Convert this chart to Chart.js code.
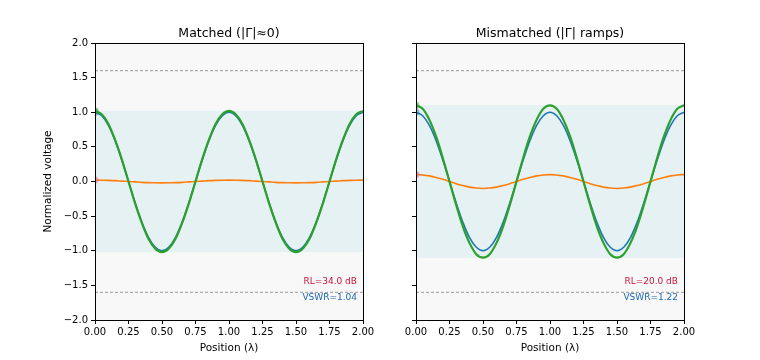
<!DOCTYPE html>
<html>
<head>
<meta charset="utf-8">
<script src="https://cdn.jsdelivr.net/npm/chart.js@4.4.1/dist/chart.umd.min.js"></script>
<style>
  body { margin: 0; background: #fff; }
  #wrap { position: relative; width: 760px; height: 360px; }
  .panel { position: absolute; top: 0; width: 380px; height: 360px; }
</style>
</head>
<body>
<div id="wrap">
  <div class="panel" style="left:0"><canvas id="left"></canvas></div>
  <div class="panel" style="left:380px"><canvas id="right"></canvas></div>
</div>
<script>
// positions along the line, in wavelengths
const positions = [0.00,0.05,0.10,0.15,0.20,0.25,0.30,0.35,0.40,0.45,0.50,0.55,0.60,0.65,0.70,0.75,0.80,0.85,0.90,0.95,
                   1.00,1.05,1.10,1.15,1.20,1.25,1.30,1.35,1.40,1.45,1.50,1.55,1.60,1.65,1.70,1.75,1.80,1.85,1.90,1.95,2.00];

// incident wave (same in both panels)
const incident = [1.00,0.95,0.81,0.59,0.31,0.00,-0.31,-0.59,-0.81,-0.95,-1.00,-0.95,-0.81,-0.59,-0.31,0.00,0.31,0.59,0.81,0.95,
                  1.00,0.95,0.81,0.59,0.31,0.00,-0.31,-0.59,-0.81,-0.95,-1.00,-0.95,-0.81,-0.59,-0.31,0.00,0.31,0.59,0.81,0.95,1.00];

// matched panel
const reflectedMatched = [0.020,0.019,0.016,0.012,0.006,0.000,-0.006,-0.012,-0.016,-0.019,-0.020,-0.019,-0.016,-0.012,-0.006,0.000,0.006,0.012,0.016,0.019,
                          0.020,0.019,0.016,0.012,0.006,0.000,-0.006,-0.012,-0.016,-0.019,-0.020,-0.019,-0.016,-0.012,-0.006,0.000,0.006,0.012,0.016,0.019,0.020];
const totalMatched = [1.02,0.97,0.83,0.60,0.32,0.00,-0.32,-0.60,-0.83,-0.97,-1.02,-0.97,-0.83,-0.60,-0.32,0.00,0.32,0.60,0.83,0.97,
                      1.02,0.97,0.83,0.60,0.32,0.00,-0.32,-0.60,-0.83,-0.97,-1.02,-0.97,-0.83,-0.60,-0.32,0.00,0.32,0.60,0.83,0.97,1.02];

// mismatched panel
const reflectedMismatched = [0.100,0.095,0.081,0.059,0.031,0.000,-0.031,-0.059,-0.081,-0.095,-0.100,-0.095,-0.081,-0.059,-0.031,0.000,0.031,0.059,0.081,0.095,
                             0.100,0.095,0.081,0.059,0.031,0.000,-0.031,-0.059,-0.081,-0.095,-0.100,-0.095,-0.081,-0.059,-0.031,0.000,0.031,0.059,0.081,0.095,0.100];
const totalMismatched = [1.10,1.05,0.89,0.65,0.34,0.00,-0.34,-0.65,-0.89,-1.05,-1.10,-1.05,-0.89,-0.65,-0.34,0.00,0.34,0.65,0.89,1.05,
                         1.10,1.05,0.89,0.65,0.34,0.00,-0.34,-0.65,-0.89,-1.05,-1.10,-1.05,-0.89,-0.65,-0.34,0.00,0.34,0.65,0.89,1.05,1.10];

const envelope = [1.02, 1.10];     // shaded band half-height (matched, mismatched)
const limitLines = [1.6, -1.6];    // dashed reference lines
const titles = ['Matched (|Γ|≈0)', 'Mismatched (|Γ| ramps)'];
const rlText = ['RL=34.0 dB', 'RL=20.0 dB'];
const vswrText = ['VSWR=1.04', 'VSWR=1.22'];
const xTicks = [0, 0.25, 0.5, 0.75, 1, 1.25, 1.5, 1.75, 2];
const yTicks = [-2, -1.5, -1, -0.5, 0, 0.5, 1, 1.5, 2];

const FONT = 'DejaVu Sans';

function pts(ys) {
    return ys.map((y, i) => ({ x: positions[i], y: y }));
}

function flat(y) {
    return [{ x: 0, y: y }, { x: 2, y: y }];
}

const panelPlugin = {
    id: 'panel',
    beforeDatasetsDraw(chart) {
        const a = chart.chartArea, ctx = chart.ctx;
        ctx.save();
        ctx.fillStyle = '#f8f8f8';
        ctx.fillRect(a.left, a.top, a.right - a.left, a.bottom - a.top);
        ctx.restore();
    },
    afterDraw(chart) {
        const a = chart.chartArea, ctx = chart.ctx, o = chart.options.plugins.panel;
        ctx.save();
        ctx.strokeStyle = '#000';
        ctx.lineWidth = 1;
        ctx.strokeRect(Math.round(a.left) + 0.5, Math.round(a.top) + 0.5, Math.round(a.right - a.left), Math.round(a.bottom - a.top));
        ctx.fillStyle = '#000';
        ctx.font = '12.5px ' + FONT;
        ctx.textAlign = 'center';
        ctx.textBaseline = 'alphabetic';
        ctx.fillText(o.title, (a.left + a.right) / 2, a.top - 6);
        ctx.font = '9px ' + FONT;
        ctx.textAlign = 'right';
        ctx.textBaseline = 'middle';
        ctx.fillStyle = '#c8143c';
        ctx.fillText(o.rl, a.right - 6, 282);
        ctx.fillStyle = '#1f66b0';
        ctx.fillText(o.vswr, a.right - 6, 298);
        ctx.restore();
    }
};

function makePanel(id, idx, reflected, total, showLabel) {
    const band = envelope[idx];
    const startDot = (c) => c.dataIndex === 0 ? 3.5 : 0;
    new Chart(document.getElementById(id), {
        type: 'line',
        data: {
            datasets: [
                { data: pts(total), borderColor: '#2ca02c', borderWidth: 2.2, order: 1,
                  pointRadius: startDot, pointBackgroundColor: 'rgba(44,160,44,0.5)', pointBorderWidth: 0 },
                { data: pts(reflected), borderColor: '#ff7f0e', borderWidth: 1.6, order: 2,
                  pointRadius: startDot, pointBackgroundColor: 'rgba(227,119,150,0.6)', pointBorderWidth: 0 },
                { data: pts(incident), borderColor: '#1f77b4', borderWidth: 1.6, order: 3,
                  pointRadius: startDot, pointBackgroundColor: 'rgba(31,119,180,0.5)', pointBorderWidth: 0 },
                { data: flat(limitLines[0]), borderColor: '#808080', borderWidth: 0.8, borderDash: [3, 2], pointRadius: 0, order: 5 },
                { data: flat(limitLines[1]), borderColor: '#808080', borderWidth: 0.8, borderDash: [3, 2], pointRadius: 0, order: 5 },
                { data: flat(band), borderWidth: 0, pointRadius: 0, fill: '+1', backgroundColor: '#e5f1f2', order: 9 },
                { data: flat(-band), borderWidth: 0, pointRadius: 0, order: 9 }
            ]
        },
        options: {
            responsive: true,
            maintainAspectRatio: false,
            animation: false,
            layout: { padding: { left: idx === 0 ? 42 : 0, right: idx === 0 ? 17 : 76, top: 43, bottom: 5 } },
            elements: { line: { cubicInterpolationMode: 'monotone' } },
            plugins: {
                legend: { display: false },
                tooltip: { enabled: false },
                panel: { title: titles[idx], rl: rlText[idx], vswr: vswrText[idx] }
            },
            scales: {
                x: {
                    type: 'linear', min: 0, max: 2,
                    afterBuildTicks: (s) => { s.ticks = xTicks.map(v => ({ value: v })); },
                    afterFit: (s) => { s.height = 35; },
                    grid: { drawOnChartArea: false, drawTicks: true, tickLength: 4, color: '#000' },
                    border: { display: true, color: '#000' },
                    ticks: { color: '#000', padding: 2, maxRotation: 0, font: { family: FONT, size: 10 },
                             callback: (v) => v.toFixed(2) },
                    title: { display: true, text: 'Position (λ)', color: '#000', padding: { top: 1, bottom: 0 },
                             font: { family: FONT, size: 10.5 } }
                },
                y: {
                    type: 'linear', min: -2, max: 2,
                    afterBuildTicks: (s) => { s.ticks = yTicks.map(v => ({ value: v })); },
                    afterFit: (s) => { s.width = idx === 0 ? 53 : 36; },
                    grid: { drawOnChartArea: false, drawTicks: true, tickLength: 4, color: '#000' },
                    border: { display: true, color: '#000' },
                    ticks: { color: showLabel ? '#000' : 'rgba(0,0,0,0)', padding: 3, font: { family: FONT, size: 10 },
                             callback: (v) => (v < 0 ? '\u2212' : '') + Math.abs(v).toFixed(1) },
                    title: { display: showLabel, text: 'Normalized voltage', color: '#000', padding: { top: 0, bottom: 4 },
                             font: { family: FONT, size: 10.5 } }
                }
            }
        },
        plugins: [panelPlugin]
    });
}

makePanel('left', 0, reflectedMatched, totalMatched, true);
makePanel('right', 1, reflectedMismatched, totalMismatched, false);
</script>
</body>
</html>
